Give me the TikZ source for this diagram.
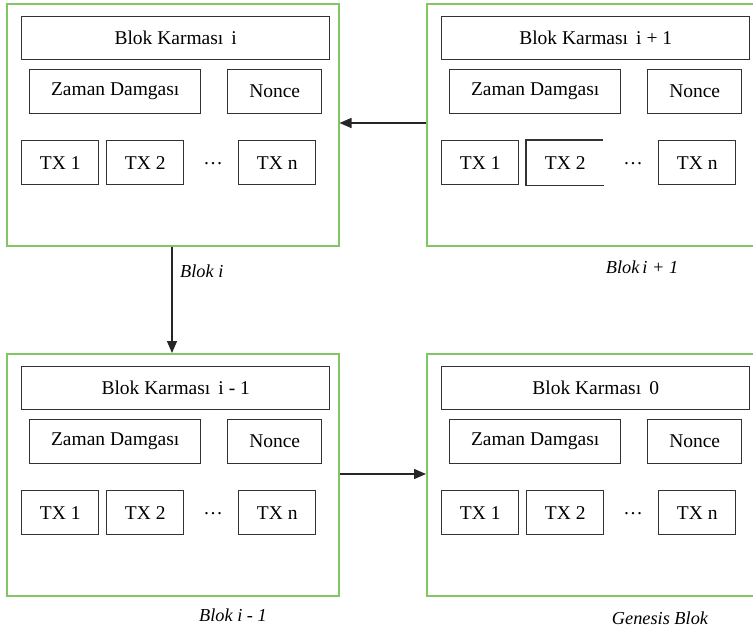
\documentclass[tikz,border=0pt]{standalone}
\usepackage{fontspec}
\setmainfont{Liberation Serif}
\usetikzlibrary{arrows.meta}

\definecolor{frameGreen}{RGB}{128,198,98}
\definecolor{boxGray}{RGB}{50,50,50}

\tikzset{
  blockframe/.style={draw=frameGreen, line width=1.5pt, anchor=north west,
    inner sep=0pt, minimum width=332pt, minimum height=242pt},
  cell/.style={draw=boxGray, line width=1.4pt, anchor=north west, inner sep=0pt,
    font=\fontsize{19.5}{22}\selectfont},
  opencell/.style={cell, draw=none},
  txcell/.style={minimum width=77pt, minimum height=44pt},
  dotsnode/.style={font=\fontsize{19.5}{22}\selectfont, inner sep=0pt},
  boxline/.style={draw=boxGray, line width=1.4pt},
  caption/.style={font=\itshape\fontsize{18.3}{21}\selectfont, inner sep=0pt},
  link/.style={draw=black!85, line width=1.4pt,
    -{Triangle[length=12pt,width=10pt]}},
}

% One block of the chain: #1 name, #2/#3 top-left corner, #4 hash index,
% #5 style of the second transaction cell
\newcommand\chainblock[5]{%
  \begin{scope}[shift={(#2,#3)}]
    \node[blockframe] (#1) at (0,0) {};
    \node[cell, minimum width=308pt, minimum height=43pt] (#1h) at (15,13)
      {Blok Karması \,#4};
    \node[cell, minimum width=171pt, minimum height=44pt] (#1z) at (23,66)
      {Zaman Damgası};
    \node[cell, minimum width=94pt, minimum height=44pt] (#1n) at (221,66)
      {Nonce};
    \node[cell, txcell] (#1t1) at (15,137) {TX 1};
    \node[#5, txcell] (#1t2) at (100,137) {TX 2};
    \node[dotsnode] (#1d) at (207,161) {…};
    \node[cell, txcell] (#1tn) at (232,137) {TX n};
  \end{scope}}

\begin{document}
\begin{tikzpicture}[x=1pt, y=-1pt]
  \useasboundingbox (0,0) rectangle (753,630);

  \chainblock{A}{6}{3}{i}{cell}
  \chainblock{B}{426}{3}{i + 1}{opencell}
  \chainblock{C}{6}{353}{i - 1}{cell}
  \chainblock{D}{426}{353}{0}{cell}

  % second transaction cell of block B is left open on its right side
  \draw[boxline] ([xshift=-1pt]Bt2.north east) -- (Bt2.north west)
    -- (Bt2.south west) -- (Bt2.south east);

  % connector positions
  \coordinate (vA) at (172,0);
  \coordinate (hB) at (0,123);
  \coordinate (hC) at (0,474);

  \draw[link] (B.west |- hB) -- (A.east |- hB);
  \draw[link] (A.south -| vA) -- (C.north -| vA);
  \draw[link] (C.east |- hC) -- (D.west |- hC);

  % block captions
  \node[caption, anchor=west] (capA) at (180,271) {Blok i};
  \node[caption] (capB) at (642,267) {Blok\,i + 1};
  \node[caption] (capC) at (233,615) {Blok i - 1};
  \node[caption] (capD) at (660,618) {Genesis Blok};
\end{tikzpicture}
\end{document}
